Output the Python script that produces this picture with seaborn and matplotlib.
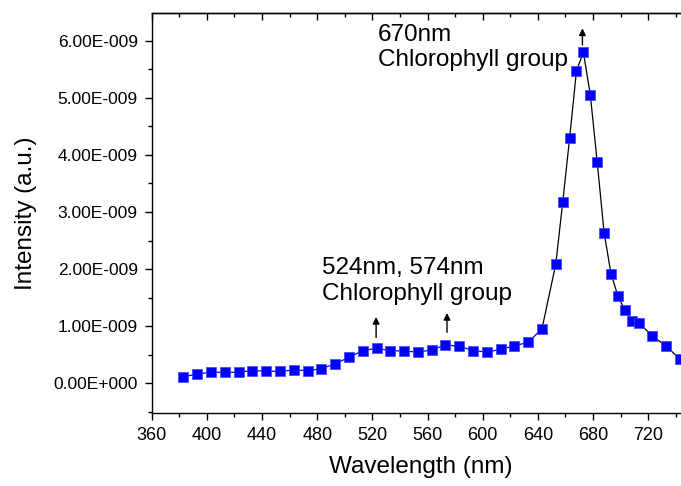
import numpy as np
import pandas as pd
import seaborn as sns
import matplotlib
matplotlib.use("Agg")
import matplotlib.pyplot as plt
from matplotlib.ticker import FuncFormatter, MultipleLocator, NullFormatter

# wavelength (nm) and intensity (in units of 1E-9)
wl_low = [383, 393, 403, 413, 423, 433, 443, 453, 463, 473, 483, 493,
          503, 513, 523, 533, 543, 553, 563, 573, 583, 593, 603, 613,
          623, 633, 643]
int_low = [0.11, 0.16, 0.19, 0.19, 0.19, 0.22, 0.21, 0.205, 0.23, 0.22, 0.25, 0.34,
           0.45, 0.57, 0.61, 0.57, 0.56, 0.545, 0.58, 0.67, 0.645, 0.57, 0.545, 0.59,
           0.655, 0.715, 0.955]
wl_peak = [643, 653, 658, 663, 668, 673, 678, 683, 688, 693, 698, 703, 708, 713,
           723, 733, 743]
int_peak = [0.955, 2.09, 3.17, 4.29, 5.48, 5.80, 5.06, 3.88, 2.64, 1.92, 1.53, 1.28,
            1.09, 1.06, 0.83, 0.65, 0.42]

low = pd.DataFrame({"wl": wl_low, "I": np.array(int_low) * 1e-9})
peak = pd.DataFrame({"wl": wl_peak, "I": np.array(int_peak) * 1e-9})
allpts = pd.concat([low, peak.iloc[1:]], ignore_index=True)

sns.set_style("ticks")
plt.rcParams['font.family'] = ['Liberation Sans', 'DejaVu Sans']
plt.rcParams['text.color'] = 'black'
plt.rcParams['axes.labelcolor'] = 'black'

fig = plt.figure(figsize=(6.81, 4.86), dpi=100)
ax = fig.add_axes([0.2228, 0.150, 0.7898, 0.8233])

sns.lineplot(data=low, x="wl", y="I", color="blue", lw=0.9, ax=ax)
sns.lineplot(data=peak, x="wl", y="I", color="black", lw=0.9, ax=ax)
sns.scatterplot(data=allpts, x="wl", y="I", marker="s", s=44, color="blue",
                edgecolor="#4040ff", linewidth=0.5, ax=ax, zorder=3)

ax.set_xlim(360, 750)
ax.set_ylim(-0.526e-9, 6.49e-9)
ax.xaxis.set_major_locator(MultipleLocator(40))
ax.xaxis.set_minor_locator(MultipleLocator(20))
ax.yaxis.set_major_locator(MultipleLocator(1e-9))
ax.yaxis.set_minor_locator(MultipleLocator(0.5e-9))


def sci(v, pos):
    if abs(v) < 1e-15:
        return "0.00E+000"
    e = int(np.floor(np.log10(abs(v))))
    m = v / 10 ** e
    return f"{m:.2f}E{'-' if e < 0 else '+'}{abs(e):03d}"


ax.yaxis.set_major_formatter(FuncFormatter(sci))

for s in ["left", "bottom", "top"]:
    ax.spines[s].set_visible(True)
    ax.spines[s].set_linewidth(1.0)
    ax.spines[s].set_color("black")
ax.spines["right"].set_visible(False)

ax.tick_params(which="both", direction="out", colors="black", width=1.0)
ax.tick_params(axis="x", labelsize=13, pad=5)
ax.tick_params(axis="y", labelsize=12.5, pad=5)
ax.tick_params(which="major", length=5)
ax.tick_params(which="minor", length=3)

# top axis: ticks pointing inward, no labels
sec = ax.secondary_xaxis("top")
sec.xaxis.set_major_locator(MultipleLocator(40))
sec.xaxis.set_minor_locator(MultipleLocator(20))
sec.xaxis.set_major_formatter(NullFormatter())
sec.tick_params(which="both", direction="in", colors="black", width=1.0)
sec.tick_params(which="major", length=5)
sec.tick_params(which="minor", length=3)
sec.spines["top"].set_linewidth(1.0)

ax.set_xlabel("Wavelength (nm)", fontsize=17.5, labelpad=9)
ax.set_ylabel("Intensity (a.u.)", fontsize=17.5, labelpad=12)

# annotations
ax.text(483.5, 1.79e-9, "524nm, 574nm\nChlorophyll group", fontsize=17.5,
        va="center", ha="left", linespacing=1.2)
ax.text(524.2, 5.886e-9, "670nm\nChlorophyll group", fontsize=17.5,
        va="center", ha="left", linespacing=1.2)
arrow = dict(arrowstyle="-|>", color="black", lw=1.0, mutation_scale=10,
             shrinkA=0, shrinkB=0)
ax.annotate("", xy=(522.7, 1.16e-9), xytext=(522.7, 0.80e-9), arrowprops=arrow)
ax.annotate("", xy=(574.1, 1.23e-9), xytext=(574.1, 0.89e-9), arrowprops=arrow)
ax.annotate("", xy=(672.3, 6.22e-9), xytext=(672.3, 5.93e-9), arrowprops=arrow)

fig.savefig("out.png", dpi=100)
